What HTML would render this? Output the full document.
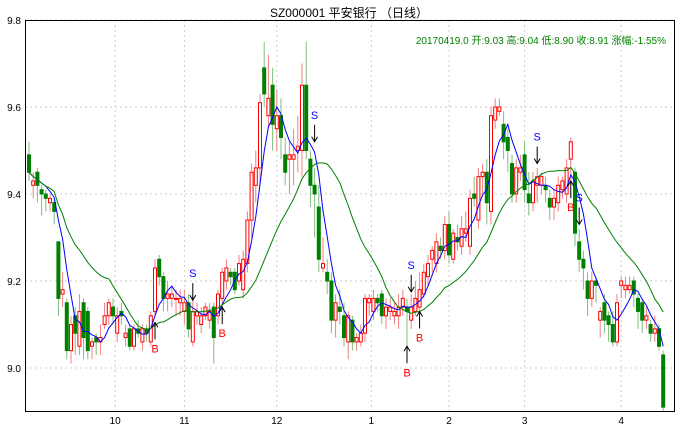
<!DOCTYPE html>
<html><head><meta charset="utf-8"><style>
body{margin:0;background:#fff;}
svg{display:block;font-family:"Liberation Sans","Noto Sans CJK SC",sans-serif;}
</style></head><body>
<svg id="chart" width="680" height="434" viewBox="0 0 680 434" xmlns="http://www.w3.org/2000/svg">
<rect x="0" y="0" width="680" height="434" fill="#fff"/>
<text x="349" y="17" text-anchor="middle" font-size="12" fill="#000">SZ000001 平安银行 （日线）</text>
<g id="grid"></g><g id="candles"></g><g id="lines"></g><g id="signals"></g><g id="axes"></g>
<text x="666" y="44" text-anchor="end" font-size="10" fill="#008000">20170419.0 开:9.03 高:9.04 低:8.90 收:8.91 涨幅:-1.55%</text>
<rect x="25.5" y="20.5" width="649" height="391" fill="none" stroke="#000" stroke-width="1"/>
</svg>
<script>
const opens=[9.49,9.42,9.45,9.41,9.40,9.38,9.38,9.29,9.17,9.15,9.04,9.12,9.05,9.15,9.13,9.05,9.07,9.06,9.10,9.12,9.14,9.08,9.13,9.07,9.09,9.05,9.09,9.06,9.09,9.06,9.13,9.25,9.21,9.16,9.16,9.16,9.15,9.13,9.15,9.06,9.12,9.10,9.12,9.11,9.14,9.12,9.16,9.20,9.22,9.22,9.20,9.18,9.24,9.34,9.42,9.46,9.69,9.58,9.65,9.55,9.58,9.49,9.48,9.48,9.50,9.50,9.65,9.48,9.42,9.37,9.23,9.22,9.20,9.11,9.14,9.12,9.06,9.11,9.06,9.06,9.08,9.15,9.13,9.16,9.17,9.12,9.13,9.12,9.12,9.14,9.14,9.11,9.13,9.14,9.17,9.21,9.25,9.24,9.28,9.27,9.33,9.25,9.30,9.28,9.31,9.28,9.40,9.34,9.44,9.45,9.36,9.57,9.59,9.56,9.53,9.47,9.40,9.45,9.49,9.40,9.38,9.42,9.42,9.42,9.39,9.37,9.38,9.41,9.40,9.48,9.45,9.29,9.25,9.20,9.16,9.20,9.11,9.15,9.12,9.10,9.06,9.19,9.18,9.18,9.20,9.16,9.15,9.11,9.10,9.08,9.09,9.03];
const closes=[9.45,9.43,9.42,9.40,9.39,9.39,9.36,9.16,9.18,9.04,9.10,9.08,9.13,9.07,9.04,9.06,9.06,9.07,9.12,9.15,9.12,9.12,9.12,9.08,9.05,9.09,9.08,9.09,9.08,9.12,9.23,9.21,9.16,9.17,9.17,9.16,9.16,9.15,9.09,9.13,9.13,9.12,9.14,9.13,9.07,9.17,9.22,9.23,9.21,9.18,9.24,9.25,9.34,9.45,9.46,9.61,9.63,9.62,9.56,9.58,9.53,9.45,9.49,9.49,9.51,9.65,9.50,9.42,9.40,9.25,9.24,9.20,9.11,9.15,9.13,9.07,9.12,9.06,9.07,9.08,9.16,9.16,9.16,9.15,9.12,9.14,9.14,9.13,9.14,9.16,9.13,9.14,9.16,9.18,9.22,9.24,9.27,9.29,9.27,9.33,9.26,9.31,9.29,9.32,9.32,9.39,9.39,9.44,9.45,9.38,9.58,9.60,9.60,9.52,9.50,9.40,9.46,9.46,9.41,9.38,9.43,9.44,9.44,9.41,9.37,9.39,9.42,9.43,9.46,9.52,9.31,9.25,9.23,9.16,9.20,9.19,9.13,9.11,9.10,9.06,9.15,9.20,9.19,9.19,9.17,9.13,9.11,9.12,9.08,9.09,9.05,8.91];
const highs=[9.52,9.45,9.46,9.42,9.41,9.40,9.39,9.29,9.22,9.16,9.12,9.14,9.17,9.16,9.14,9.07,9.08,9.10,9.15,9.16,9.16,9.14,9.15,9.10,9.10,9.10,9.11,9.10,9.10,9.13,9.25,9.26,9.22,9.20,9.19,9.18,9.18,9.18,9.17,9.17,9.15,9.14,9.15,9.15,9.15,9.18,9.23,9.25,9.23,9.23,9.26,9.27,9.36,9.47,9.50,9.63,9.75,9.72,9.69,9.64,9.62,9.53,9.52,9.55,9.58,9.70,9.75,9.50,9.46,9.42,9.30,9.25,9.22,9.17,9.18,9.15,9.13,9.12,9.08,9.10,9.17,9.17,9.18,9.17,9.18,9.16,9.16,9.15,9.17,9.18,9.16,9.17,9.20,9.22,9.24,9.26,9.28,9.31,9.30,9.35,9.36,9.32,9.33,9.35,9.36,9.41,9.44,9.46,9.47,9.48,9.60,9.62,9.62,9.59,9.55,9.49,9.48,9.49,9.52,9.45,9.45,9.46,9.45,9.44,9.41,9.41,9.44,9.44,9.48,9.53,9.46,9.32,9.27,9.22,9.22,9.21,9.14,9.17,9.13,9.13,9.17,9.21,9.21,9.21,9.21,9.17,9.16,9.14,9.11,9.12,9.10,9.04];
const lows=[9.43,9.39,9.38,9.35,9.36,9.36,9.33,9.12,9.14,9.02,9.01,9.03,9.03,9.02,9.02,9.02,9.03,9.03,9.09,9.10,9.10,9.06,9.10,9.05,9.04,9.04,9.07,9.04,9.06,9.05,9.12,9.19,9.13,9.13,9.14,9.12,9.12,9.10,9.07,9.05,9.10,9.08,9.11,9.09,9.01,9.10,9.14,9.18,9.19,9.17,9.19,9.16,9.22,9.30,9.38,9.42,9.60,9.55,9.50,9.50,9.48,9.42,9.40,9.42,9.45,9.44,9.48,9.37,9.30,9.22,9.22,9.17,9.08,9.07,9.10,9.05,9.02,9.04,9.04,9.05,9.06,9.12,9.11,9.13,9.10,9.09,9.11,9.10,9.09,9.12,9.04,9.09,9.12,9.13,9.16,9.19,9.22,9.22,9.25,9.25,9.24,9.24,9.27,9.26,9.29,9.26,9.37,9.32,9.40,9.33,9.33,9.55,9.58,9.48,9.45,9.38,9.38,9.43,9.38,9.35,9.36,9.38,9.40,9.38,9.34,9.34,9.36,9.39,9.38,9.42,9.28,9.22,9.18,9.12,9.14,9.15,9.07,9.08,9.06,9.05,9.05,9.16,9.16,9.17,9.14,9.09,9.08,9.09,9.06,9.06,9.04,8.90];
const yTicks=[9.0,9.2,9.4,9.6,9.8];
const monthLabels=['10','11','12','1','2','3','4'];
const monthIdx=[20.5,37,59,81.5,100,118,141];
const sellIdx=[39,68,91,121,131];
const sellPrice=[9.156,9.52,9.175,9.47,9.33];
const buyIdx=[30,46,90,93,129];
const buyPrice=[9.105,9.14,9.05,9.13,9.43];

const NS='http://www.w3.org/2000/svg';
const X0=29,DX=4.2,PT=20,PB=411;
function xs(i){return X0+DX*i;}
function ys(p){return 20+(9.8-p)*435;}
function mk(tag,attrs,parent){const e=document.createElementNS(NS,tag);for(const k in attrs)e.setAttribute(k,attrs[k]);parent.appendChild(e);return e;}
const grid=document.getElementById('grid'),axes=document.getElementById('axes');
yTicks.forEach(t=>{
  const l=mk('line',{x1:25,x2:674,y1:ys(t),y2:ys(t),stroke:'#ccc','stroke-dasharray':'2,3'},grid);
  
  
  const tx=mk('text',{x:21,y:ys(t)+4,'text-anchor':'end','font-size':'10',fill:'#000'},axes);
  tx.textContent=t.toFixed(1);
  
  
});
monthIdx.forEach((m,k)=>{
  const x=xs(m);
  const l=mk('line',{x1:x,x2:x,y1:20,y2:411,stroke:'#ccc','stroke-dasharray':'2,3'},grid);
  
  
  const tx=mk('text',{x:x,y:424,'text-anchor':'middle','font-size':'10',fill:'#000'},axes);
  tx.textContent=monthLabels[k];
  
  
});
const cg=document.getElementById('candles');
for(let i=0;i<opens.length;i++){
  const up=closes[i]>=opens[i];
  const x=xs(i);
  const w=mk('line',{x1:x,x2:x,y1:ys(highs[i]),y2:ys(lows[i]),stroke:up?'#f08080':'#7fbf7f','stroke-width':1},cg);
  
  
  const top=ys(Math.max(opens[i],closes[i])),bot=ys(Math.min(opens[i],closes[i]));
  const b=mk('rect',{x:x-1.5,y:top,width:3,height:Math.max(bot-top,1),fill:up?'#fff':'#008000',stroke:up?'#ff0000':'#008000','stroke-width':1},cg);
  
  
}
function ma(n){const r=[];for(let i=0;i<closes.length;i++){let s=0,c=0;for(let j=Math.max(0,i-n+1);j<=i;j++){s+=closes[j];c++;}r.push(s/c);}return r;}
const lg=document.getElementById('lines');
[[ma(5),'#0000ff','ma5-line'],[ma(20),'#008000','ma20-line']].forEach(([arr,col,name])=>{
  const d=arr.map((v,i)=>(i?'L':'M')+xs(i).toFixed(1)+','+ys(v).toFixed(1)).join('');
  const p=mk('path',{d:d,fill:'none',stroke:col,'stroke-width':1},lg);
  
  
});
const sg=document.getElementById('signals');
sellIdx.forEach((ix,k)=>{
  const x=xs(ix),y=ys(sellPrice[k]);
  const a=mk('path',{d:`M${x},${y-17}L${x},${y}M${x-3},${y-5}L${x},${y}L${x+3},${y-5}`,stroke:'#000',fill:'none','stroke-width':1},sg);
  
  
  const t=mk('text',{x:x,y:y-23,'text-anchor':'middle','font-size':'11',fill:'#0000ff'},sg);
  t.textContent='S';
  
  
});
buyIdx.forEach((ix,k)=>{
  const x=xs(ix),y=ys(buyPrice[k]);
  const a=mk('path',{d:`M${x},${y+17}L${x},${y}M${x-3},${y+5}L${x},${y}L${x+3},${y+5}`,stroke:'#000',fill:'none','stroke-width':1},sg);
  
  
  const t=mk('text',{x:x,y:y+30,'text-anchor':'middle','font-size':'11',fill:'#ff0000'},sg);
  t.textContent='B';
  
  
});
</script>
</body></html>
